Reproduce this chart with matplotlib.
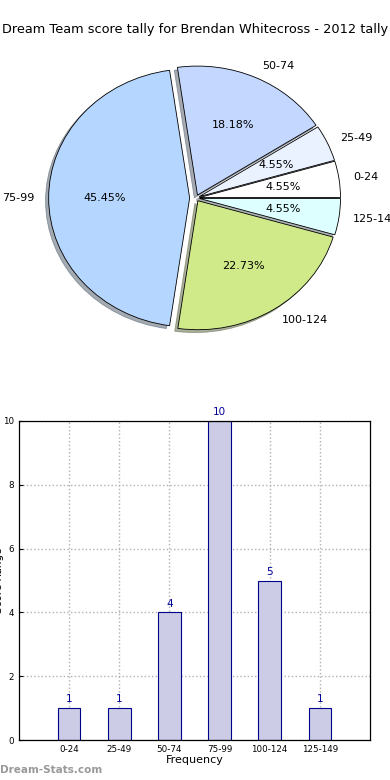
import matplotlib
matplotlib.use("Agg")
import matplotlib.pyplot as plt

categories = ["0-24", "25-49", "50-74", "75-99", "100-124", "125-149"]
counts = [1, 1, 4, 10, 5, 1]
pie_colors = ["#FFFFFF", "#EAF1FF", "#C4D8FF", "#B5D6FF", "#D0EA8A", "#DDFFFF"]
explode = [0.025, 0.025, 0.025, 0.045, 0.025, 0.025]
title = "Dream Team score tally for Brendan Whitecross - 2012 tally"

W, H = 390, 780
fig = plt.figure(figsize=(W / 100, H / 100), dpi=100)

fig.text(0.5, 1 - 30 / H, title, ha="center", va="center", fontsize=9.3)

# Pie (elliptical, as in the reference)
cx, cy, rx, ry = 196, 198, 141, 129
hx, hy = 1.25 * rx, 1.25 * ry
axp = fig.add_axes([(cx - hx) / W, (H - cy - hy) / H, 2 * hx / W, 2 * hy / H])
wedges, texts, autotexts = axp.pie(
    counts, labels=categories, colors=pie_colors, explode=explode,
    autopct="%.2f%%", startangle=0, shadow=dict(ox=-0.016, oy=-0.016, shade=0.6),
    wedgeprops=dict(edgecolor="black", linewidth=0.6),
    textprops=dict(fontsize=8))
axp.set_aspect("auto")
axp.set_xlim(-1.25, 1.25)
axp.set_ylim(-1.25, 1.25)
axp.axis("off")

# Bars
axb = fig.add_axes([19 / W, 40 / H, 351 / W, 319 / H])
x = list(range(len(categories)))
bars = axb.bar(x, counts, width=0.45, color="#CCCCE6", edgecolor="#00008B", linewidth=0.8, zorder=2)
for xi, c in zip(x, counts):
    axb.text(xi, c + 0.12, str(c), ha="center", va="bottom", color="#000099", fontsize=7.5)
axb.set_xlim(-1, 6)
axb.set_ylim(0, 10)
axb.set_xticks(x)
axb.set_xticklabels(categories, fontsize=6.3)
axb.set_yticks(range(0, 11, 2))
axb.tick_params(axis="y", labelsize=6.3, length=3, direction="in")
axb.tick_params(axis="x", length=3, direction="in")
axb.grid(True, linestyle=":", color="#B0B0B0", linewidth=1, zorder=0)
axb.set_axisbelow(True)
axb.set_xlabel("Frequency", fontsize=8, labelpad=1)
axb.set_ylabel("Score Range", fontsize=7.5)
axb.yaxis.set_label_coords(-0.044, 0.5)
for s in axb.spines.values():
    s.set_linewidth(0.9)

fig.text(0.0, 1 - 770 / H, "Dream-Stats.com", ha="left", va="center", fontsize=7.5,
         color="#999999", fontweight="bold")

fig.savefig("out.png", dpi=100)
